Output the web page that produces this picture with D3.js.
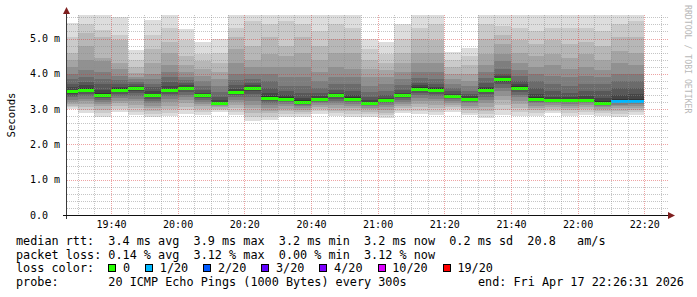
<!DOCTYPE html>
<html>
<head>
<meta charset="utf-8">
<script src="https://cdn.jsdelivr.net/npm/d3@7"></script>
<style>
  html, body { margin: 0; padding: 0; background: #fff; }
  svg { display: block; }
  text { font-family: "DejaVu Sans Mono", monospace; }
</style>
</head>
<body>
<div id="chart"></div>
<script>
/*global d3 */

// bar end times (each bar = one 300s step)
const barEnds = ["19:30", "19:35", "19:40", "19:45", "19:50", "19:55",
    "20:00", "20:05", "20:10", "20:15", "20:20", "20:25", "20:30", "20:35", "20:40", "20:45", "20:50", "20:55",
    "21:00", "21:05", "21:10", "21:15", "21:20", "21:25", "21:30", "21:35", "21:40", "21:45", "21:50", "21:55",
    "22:00", "22:05", "22:10", "22:15", "22:20"]

// median rtt per bar (ms)
const medianMs = [3.51, 3.54, 3.40, 3.54, 3.61, 3.39, 3.54, 3.61, 3.39, 3.18, 3.48, 3.60, 3.31, 3.30, 3.21, 3.28, 3.39,
    3.30, 3.18, 3.26, 3.39, 3.58, 3.55, 3.38, 3.30, 3.55, 3.86, 3.61, 3.30, 3.25, 3.26, 3.26, 3.17, 3.22, 3.24]

// lost pings out of 20 per bar
const lostPings = [0, 0, 0, 0, 0, 0, 0, 0, 0, 0, 0, 0, 0, 0, 0, 0, 0,
    0, 0, 0, 0, 0, 0, 0, 0, 0, 0, 0, 0, 0, 0, 0, 0, 1, 1]

// smoke: upper ping values, outer band -> inner band (ms)
const smokeHigh = [
    [5.45, 5.05, 4.60, 4.40, 4.20, 4.00, 3.85, 3.72, 3.62, 3.55],
    [5.75, 5.40, 5.15, 4.80, 4.40, 4.10, 3.90, 3.78, 3.68, 3.60],
    [5.70, 5.25, 5.05, 4.45, 4.35, 4.05, 3.85, 3.70, 3.55, 3.45],
    [5.62, 5.10, 4.95, 4.30, 4.15, 3.95, 3.82, 3.72, 3.64, 3.59],
    [4.67, 4.39, 4.20, 4.03, 3.92, 3.84, 3.76, 3.70, 3.66, 3.63],
    [5.52, 5.10, 4.70, 4.30, 4.00, 3.85, 3.72, 3.62, 3.52, 3.44],
    [5.75, 5.30, 4.90, 4.60, 4.25, 4.05, 3.90, 3.78, 3.66, 3.58],
    [5.26, 4.95, 4.50, 4.25, 4.05, 3.92, 3.82, 3.74, 3.68, 3.64],
    [4.91, 4.55, 4.35, 4.15, 3.95, 3.80, 3.65, 3.55, 3.47, 3.42],
    [5.00, 4.60, 4.30, 4.05, 3.85, 3.65, 3.48, 3.35, 3.26, 3.21],
    [5.75, 5.30, 5.05, 4.70, 4.30, 4.00, 3.82, 3.68, 3.58, 3.52],
    [5.75, 5.50, 4.80, 4.40, 4.20, 4.00, 3.85, 3.75, 3.68, 3.63],
    [5.75, 5.40, 5.05, 4.55, 4.20, 4.00, 3.80, 3.60, 3.45, 3.36],
    [5.75, 5.50, 4.80, 4.50, 4.20, 3.90, 3.65, 3.50, 3.40, 3.34],
    [5.75, 5.40, 5.05, 4.60, 4.20, 3.90, 3.65, 3.45, 3.32, 3.25],
    [5.75, 5.20, 4.80, 4.40, 4.05, 3.80, 3.60, 3.47, 3.38, 3.32],
    [5.75, 5.40, 5.00, 4.60, 4.20, 3.90, 3.70, 3.55, 3.47, 3.42],
    [5.75, 5.30, 5.00, 4.60, 4.15, 3.90, 3.70, 3.52, 3.40, 3.34],
    [5.00, 4.70, 4.40, 4.15, 3.90, 3.65, 3.48, 3.35, 3.26, 3.21],
    [4.91, 4.55, 4.30, 4.10, 3.90, 3.70, 3.52, 3.40, 3.32, 3.28],
    [5.41, 5.00, 4.60, 4.30, 4.05, 3.85, 3.68, 3.55, 3.46, 3.42],
    [5.75, 5.30, 5.00, 4.60, 4.30, 4.05, 3.88, 3.75, 3.67, 3.62],
    [5.75, 5.40, 4.95, 4.60, 4.30, 4.05, 3.85, 3.72, 3.64, 3.59],
    [4.63, 4.40, 4.20, 4.00, 3.85, 3.72, 3.60, 3.50, 3.44, 3.40],
    [4.72, 4.50, 4.25, 4.00, 3.80, 3.65, 3.52, 3.42, 3.36, 3.32],
    [5.75, 5.40, 5.00, 4.55, 4.25, 4.05, 3.88, 3.74, 3.64, 3.59],
    [5.75, 5.35, 5.10, 4.85, 4.55, 4.35, 4.15, 4.00, 3.93, 3.89],
    [5.75, 5.30, 4.95, 4.60, 4.30, 4.10, 3.95, 3.80, 3.70, 3.65],
    [5.75, 5.20, 4.85, 4.50, 4.20, 4.00, 3.80, 3.60, 3.42, 3.34],
    [5.75, 5.30, 4.95, 4.55, 4.25, 3.95, 3.70, 3.50, 3.35, 3.28],
    [5.75, 5.30, 4.85, 4.45, 4.15, 3.90, 3.65, 3.47, 3.35, 3.29],
    [5.75, 5.30, 4.90, 4.55, 4.20, 3.95, 3.70, 3.50, 3.36, 3.30],
    [5.75, 5.20, 4.80, 4.40, 4.10, 3.90, 3.70, 3.50, 3.32, 3.22],
    [5.75, 5.40, 5.05, 4.65, 4.30, 4.00, 3.80, 3.60, 3.40, 3.28],
    [5.75, 5.50, 5.05, 4.60, 4.25, 4.00, 3.80, 3.60, 3.42, 3.30]
]

// smoke: lower ping values, outer band -> inner band (ms)
const smokeLow = [
    [3.00, 3.05, 3.10, 3.15, 3.20, 3.27, 3.33, 3.38, 3.43, 3.47],
    [2.90, 2.98, 3.06, 3.14, 3.22, 3.30, 3.37, 3.43, 3.48, 3.52],
    [2.78, 2.88, 2.98, 3.08, 3.14, 3.20, 3.26, 3.31, 3.35, 3.38],
    [2.91, 3.00, 3.08, 3.16, 3.24, 3.31, 3.38, 3.44, 3.49, 3.52],
    [2.83, 2.93, 3.03, 3.13, 3.22, 3.30, 3.38, 3.46, 3.52, 3.57],
    [2.78, 2.86, 2.95, 3.03, 3.10, 3.17, 3.23, 3.28, 3.33, 3.36],
    [2.80, 2.90, 3.00, 3.10, 3.20, 3.28, 3.36, 3.43, 3.48, 3.52],
    [2.87, 2.97, 3.07, 3.16, 3.25, 3.33, 3.41, 3.48, 3.54, 3.58],
    [2.83, 2.92, 3.00, 3.08, 3.15, 3.21, 3.27, 3.31, 3.35, 3.37],
    [2.92, 2.97, 3.01, 3.05, 3.08, 3.11, 3.13, 3.15, 3.16, 3.17],
    [2.83, 2.93, 3.03, 3.12, 3.20, 3.27, 3.34, 3.39, 3.43, 3.46],
    [2.67, 2.78, 2.90, 3.02, 3.13, 3.24, 3.34, 3.43, 3.51, 3.56],
    [2.69, 2.79, 2.88, 2.96, 3.04, 3.11, 3.17, 3.22, 3.26, 3.29],
    [2.78, 2.86, 2.94, 3.01, 3.08, 3.14, 3.19, 3.23, 3.26, 3.28],
    [2.78, 2.85, 2.92, 2.98, 3.04, 3.09, 3.13, 3.16, 3.18, 3.20],
    [2.87, 2.94, 3.00, 3.06, 3.11, 3.16, 3.20, 3.23, 3.25, 3.27],
    [2.80, 2.88, 2.96, 3.04, 3.11, 3.18, 3.24, 3.29, 3.33, 3.37],
    [2.79, 2.87, 2.95, 3.02, 3.09, 3.15, 3.20, 3.24, 3.27, 3.29],
    [2.79, 2.86, 2.93, 2.99, 3.04, 3.08, 3.12, 3.14, 3.16, 3.17],
    [2.74, 2.82, 2.90, 2.98, 3.05, 3.11, 3.16, 3.20, 3.23, 3.25],
    [2.88, 2.95, 3.02, 3.09, 3.15, 3.21, 3.26, 3.31, 3.35, 3.37],
    [2.85, 2.95, 3.05, 3.15, 3.24, 3.32, 3.40, 3.47, 3.52, 3.56],
    [2.83, 2.93, 3.03, 3.13, 3.22, 3.30, 3.38, 3.44, 3.49, 3.53],
    [2.92, 2.99, 3.06, 3.12, 3.18, 3.23, 3.28, 3.32, 3.35, 3.37],
    [2.83, 2.90, 2.97, 3.04, 3.10, 3.16, 3.20, 3.24, 3.27, 3.29],
    [2.74, 2.85, 2.96, 3.07, 3.17, 3.26, 3.34, 3.42, 3.48, 3.53],
    [2.83, 2.98, 3.12, 3.25, 3.38, 3.50, 3.60, 3.70, 3.77, 3.83],
    [2.81, 2.92, 3.03, 3.14, 3.24, 3.33, 3.41, 3.49, 3.55, 3.59],
    [2.81, 2.89, 2.97, 3.04, 3.10, 3.16, 3.21, 3.25, 3.28, 3.29],
    [2.88, 2.95, 3.01, 3.07, 3.12, 3.16, 3.19, 3.22, 3.24, 3.25],
    [2.81, 2.89, 2.97, 3.04, 3.10, 3.15, 3.19, 3.22, 3.24, 3.25],
    [2.83, 2.91, 2.99, 3.06, 3.12, 3.16, 3.20, 3.23, 3.25, 3.26],
    [2.81, 2.88, 2.94, 3.00, 3.05, 3.09, 3.12, 3.14, 3.15, 3.16],
    [2.79, 2.87, 2.95, 3.02, 3.08, 3.13, 3.17, 3.19, 3.21, 3.22],
    [2.83, 2.91, 2.98, 3.04, 3.10, 3.15, 3.19, 3.21, 3.23, 3.24]
]

// smoke band greys, outer -> inner
const smokeGreys = ["#dddddd", "#cacaca", "#b7b7b7", "#a4a4a4", "#919191", "#7e7e7e", "#6b6b6b", "#585858", "#454545", "#323232"]

// loss legend
const lossSteps = [0, 1, 2, 3, 4, 10, 19]
const lossLabels = ["0", "1/20", "2/20", "3/20", "4/20", "10/20", "19/20"]
const lossColors = ["#26ff00", "#00b8ff", "#0059ff", "#5e00ff", "#7e00ff", "#dd00ff", "#ff0000"]

// axes
const yTicks = [0, 1, 2, 3, 4, 5]
const yTickLabels = ["0.0  ", "1.0 m", "2.0 m", "3.0 m", "4.0 m", "5.0 m"]
const xTickLabels = ["19:40", "20:00", "20:20", "20:40", "21:00", "21:20", "21:40", "22:00", "22:20"]
const timeStart = "19:26:31"
const timeEnd = "22:26:31"
const yMax = 5.666

// legend text
const legendRows = [
    "median rtt:  3.4 ms avg  3.9 ms max  3.2 ms min  3.2 ms now  0.2 ms sd  20.8   am/s",
    "packet loss: 0.14 % avg  3.12 % max  0.00 % min  3.12 % now",
    "loss color:",
    "probe:       20 ICMP Echo Pings (1000 Bytes) every 300s"
]
const endLabel = "end: Fri Apr 17 22:26:31 2026"

async function drawChart() {
    //*************************1. Dimensions

    const dimensions = {
        width: 697,
        height: 297,
        margin: {
            top: 15,
            left: 66
        },
        boundedWidth: 600,
        boundedHeight: 200
    }
    const plotBottom = dimensions.margin.top + dimensions.boundedHeight
    const plotRight = dimensions.margin.left + dimensions.boundedWidth

    //*************************2. Wrapper

    const wrapper = d3.select("#chart")
        .append("svg")
        .attr("width", dimensions.width)
        .attr("height", dimensions.height)

    wrapper.append("rect")
        .attr("width", dimensions.width)
        .attr("height", dimensions.height)
        .attr("fill", "#ffffff")

    wrapper.append("clipPath")
        .attr("id", "plotClip")
        .append("rect")
        .attr("x", dimensions.margin.left + 1)
        .attr("y", dimensions.margin.top)
        .attr("width", dimensions.boundedWidth + 3)
        .attr("height", dimensions.boundedHeight)

    //*************************3. Scales

    const parseHM = d3.utcParse("%H:%M")
    const parseHMS = d3.utcParse("%H:%M:%S")

    const xScale = d3.scaleUtc()
        .domain([parseHMS(timeStart), parseHMS(timeEnd)])
        .range([dimensions.margin.left, plotRight])

    const yScale = d3.scaleLinear()
        .domain([0, yMax])
        .range([plotBottom, dimensions.margin.top])

    const bars = barEnds.map((t, i) => ({
        end: parseHM(t),
        start: d3.utcMinute.offset(parseHM(t), -5),
        median: medianMs[i],
        loss: lostPings[i],
        high: smokeHigh[i],
        low: smokeLow[i]
    }))

    const lossColor = n => lossColors[d3.bisectRight(lossSteps, n) - 1]

    //*************************4. Smoke

    const smoke = wrapper.append("g")
        .attr("clip-path", "url(#plotClip)")
        .attr("shape-rendering", "crispEdges")

    smokeGreys.forEach((grey, band) => {
        smoke.append("g")
            .selectAll("rect")
            .data(bars)
            .join("rect")
            .attr("x", d => Math.round(xScale(d.start)))
            .attr("width", d => Math.round(xScale(d.end)) - Math.round(xScale(d.start)))
            .attr("y", d => yScale(d.high[band]))
            .attr("height", d => yScale(d.low[band]) - yScale(d.high[band]))
            .attr("fill", grey)
    })

    // median line coloured by loss
    smoke.append("g")
        .selectAll("rect")
        .data(bars)
        .join("rect")
        .attr("x", d => Math.round(xScale(d.start)))
        .attr("width", d => Math.round(xScale(d.end)) - Math.round(xScale(d.start)))
        .attr("y", d => Math.round(yScale(d.median)) - 1.5)
        .attr("height", 3)
        .attr("fill", d => lossColor(d.loss))

    //*************************5. Grid

    const grid = wrapper.append("g")
        .attr("shape-rendering", "crispEdges")
        .attr("stroke-width", 1)
        .attr("stroke-dasharray", "1,1")

    const minorY = d3.ticks(0, yMax, 28).filter(v => v > 0 && Math.abs(v - Math.round(v)) > 1e-6)
    const majorY = yTicks.filter(v => v > 0)

    grid.selectAll(".hminor")
        .data(minorY)
        .join("line")
        .attr("x1", dimensions.margin.left + 1)
        .attr("x2", plotRight + 3)
        .attr("y1", d => Math.round(yScale(d)) + 0.5)
        .attr("y2", d => Math.round(yScale(d)) + 0.5)
        .attr("stroke", "rgba(140,140,140,0.5)")

    const minorX = xScale.ticks(d3.utcMinute.every(5)).filter(d => d.getUTCMinutes() % 20 !== 0)
    const majorX = xScale.ticks(d3.utcMinute.every(20))

    grid.selectAll(".vminor")
        .data(minorX)
        .join("line")
        .attr("x1", d => Math.round(xScale(d)) + 0.5)
        .attr("x2", d => Math.round(xScale(d)) + 0.5)
        .attr("y1", dimensions.margin.top)
        .attr("y2", plotBottom)
        .attr("stroke", "rgba(140,140,140,0.5)")

    grid.selectAll(".hmajor")
        .data(majorY)
        .join("line")
        .attr("x1", dimensions.margin.left + 1)
        .attr("x2", plotRight + 3)
        .attr("y1", d => Math.round(yScale(d)) + 0.5)
        .attr("y2", d => Math.round(yScale(d)) + 0.5)
        .attr("stroke", "rgba(215,50,50,0.45)")

    grid.selectAll(".vmajor")
        .data(majorX)
        .join("line")
        .attr("x1", d => Math.round(xScale(d)) + 0.5)
        .attr("x2", d => Math.round(xScale(d)) + 0.5)
        .attr("y1", dimensions.margin.top)
        .attr("y2", plotBottom)
        .attr("stroke", "rgba(215,50,50,0.45)")

    //*************************6. Axes

    const axes = wrapper.append("g")
        .attr("shape-rendering", "crispEdges")

    axes.append("line")
        .attr("x1", dimensions.margin.left + 0.5)
        .attr("x2", dimensions.margin.left + 0.5)
        .attr("y1", dimensions.margin.top - 2)
        .attr("y2", plotBottom + 4)
        .attr("stroke", "#3a3a3a")

    axes.append("line")
        .attr("x1", dimensions.margin.left - 3)
        .attr("x2", plotRight + 4)
        .attr("y1", plotBottom + 0.5)
        .attr("y2", plotBottom + 0.5)
        .attr("stroke", "#111")

    // arrows
    const ax = dimensions.margin.left + 0.5
    wrapper.append("path")
        .attr("d", `M${ax - 3.5},${dimensions.margin.top - 1} L${ax + 3.5},${dimensions.margin.top - 1} L${ax},${dimensions.margin.top - 8} Z`)
        .attr("fill", "#7f1f1f")
    const ay = plotBottom + 0.5
    wrapper.append("path")
        .attr("d", `M${plotRight + 2},${ay - 3.5} L${plotRight + 2},${ay + 3.5} L${plotRight + 9},${ay} Z`)
        .attr("fill", "#7f1f1f")

    // tick labels
    wrapper.append("g")
        .selectAll("text")
        .data(yTicks)
        .join("text")
        .attr("x", 60)
        .attr("y", d => yScale(d) + 3.5)
        .attr("text-anchor", "end")
        .style("white-space", "pre")
        .attr("font-size", "10px")
        .attr("fill", "#000")
        .text((d, i) => yTickLabels[i])

    wrapper.append("g")
        .selectAll("text")
        .data(xTickLabels)
        .join("text")
        .attr("x", d => xScale(parseHM(d)) + 0.5)
        .attr("y", plotBottom + 12.5)
        .attr("text-anchor", "middle")
        .attr("font-size", "10px")
        .attr("fill", "#000")
        .text(d => d)

    wrapper.append("text")
        .attr("transform", `translate(14.5, ${yScale(yMax / 2)}) rotate(-90)`)
        .attr("text-anchor", "middle")
        .attr("font-size", "10.7px")
        .attr("fill", "#000")
        .text("Seconds")

    wrapper.append("text")
        .attr("transform", "translate(685, 5) rotate(90)")
        .attr("font-size", "8.2px")
        .attr("fill", "#b8b8b8")
        .text("RRDTOOL / TOBI OETIKER")

    //*************************7. Legend

    const rowY = [245, 258.7, 272.4, 286.1]
    const legend = wrapper.append("g")
        .attr("font-size", "11.8px")
        .attr("fill", "#000")

    legend.selectAll(".row")
        .data(legendRows)
        .join("text")
        .attr("x", 16)
        .attr("y", (d, i) => rowY[i])
        .style("white-space", "pre")
        .text(d => d)

    legend.append("text")
        .attr("x", 478)
        .attr("y", rowY[3])
        .style("white-space", "pre")
        .text(endLabel)

    // loss colour swatches laid out one after another
    const charW = 7.1
    let cursor = 108.3
    lossLabels.forEach((label, i) => {
        legend.append("rect")
            .attr("x", Math.round(cursor) + 0.5)
            .attr("y", 264.5)
            .attr("width", 7)
            .attr("height", 7)
            .attr("fill", lossColors[i])
            .attr("stroke", "#000")
            .attr("shape-rendering", "crispEdges")
        legend.append("text")
            .attr("x", cursor + 14.7)
            .attr("y", rowY[2])
            .text(label)
        cursor += 14.7 + label.length * charW + 15.0
    })
}
drawChart()
</script>
</body>
</html>
